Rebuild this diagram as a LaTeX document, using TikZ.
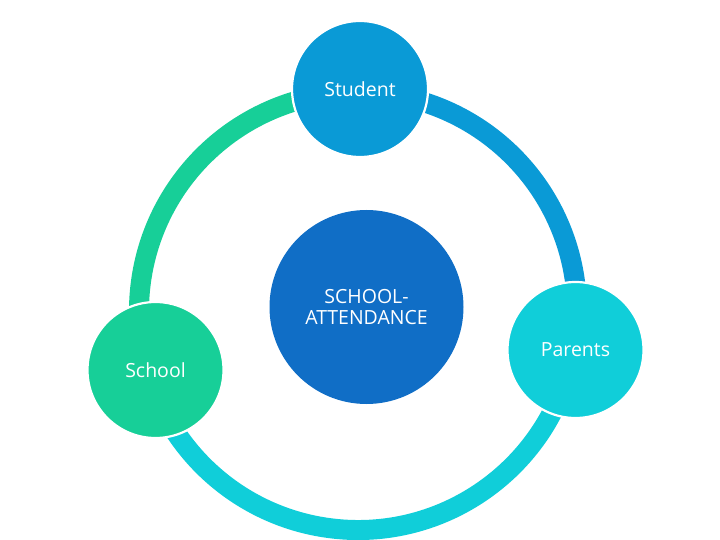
\documentclass[tikz,border=0pt]{standalone}
\usepackage{fontspec}
\usetikzlibrary{calc}
\setmainfont{Open Sans}
\definecolor{cstudent}{HTML}{0A9AD6}
\definecolor{ccenter}{HTML}{106EC6}
\definecolor{cparents}{HTML}{10CED9}
\definecolor{cschool}{HTML}{17CF98}
\tikzset{
  outer/.style={circle, draw=white, line width=2.2pt, minimum size=136pt, inner sep=0pt, text=white, font=\fontsize{19.5}{21}\selectfont},
  hub/.style={circle, fill=ccenter, minimum size=194pt, inner sep=0pt, text=white, align=center, font=\fontsize{19.5}{21}\selectfont},
  ring/.style={line width=20pt}
}
\begin{document}
\begin{tikzpicture}[x=1pt,y=-1pt]
\useasboundingbox (0,0) rectangle (720,540);
\coordinate (rc) at (358,311);
% ring arcs (drawn under the nodes)
\draw[ring, cschool] ($(rc)+(164:219)$) arc[start angle=164, end angle=270.5, radius=219];
\draw[ring, cstudent] ($(rc)+(-89.5:219)$) arc[start angle=-89.5, end angle=9.9, radius=219];
\draw[ring, cparents] ($(rc)+(9.9:219)$) arc[start angle=9.9, end angle=164, radius=219];
% nodes
\node[hub] (center) at (366.5,307) {SCHOOL-\\ATTENDANCE};
\node[outer, fill=cstudent] (student) at (360,89) {Student};
\node[outer, fill=cparents] (parents) at (575.5,350) {Parents};
\node[outer, fill=cschool] (school) at (155.5,370) {School};
\end{tikzpicture}
\end{document}
